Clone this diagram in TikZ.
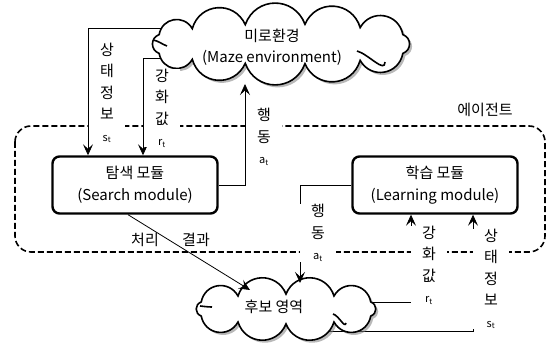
\documentclass[tikz,border=0pt]{standalone}
\usepackage{fontspec}
\setmainfont{Noto Sans CJK KR}
\usetikzlibrary{shadows,arrows.meta,calc}
\newcommand\mycloudpath[6]{%
  \path[cloudshape] ($(#1,#2)+(#5:#3 and #4)$)
    \foreach \b in {#6}{ to[bend left=70,looseness=1.3] ($(#1,#2)+(\b:#3 and #4)$) } -- cycle;}
\begin{document}
\begin{tikzpicture}[x=1pt,y=-1pt,
  conn/.style={line width=0.8pt},
  arr/.style={conn,-{Stealth[length=11pt,width=10pt,inset=4.5pt]}},
  module/.style={draw,line width=2.4pt,rounded corners=7pt,fill=white,minimum width=165pt,minimum height=57pt,align=center,font=\fontsize{15}{22}\selectfont},
  cloudshape/.style={draw,line width=1.6pt,fill=white,drop shadow={shadow xshift=2.5pt,shadow yshift=-2.5pt,opacity=.55}},
  curl/.style={line width=1.6pt},
  ctext/.style={align=center,inner sep=0pt,font=\fontsize{15}{21}\selectfont},
  agent/.style={line width=1.6pt,dash pattern=on 6pt off 3pt,rounded corners=16pt},
  vlab/.style={fill=white,inner sep=0pt,minimum width=36pt,align=center,font=\fontsize{15}{21.5}\selectfont},
  lab/.style={inner sep=0pt,font=\fontsize{15}{17}\selectfont}
]
\useasboundingbox (0,0) rectangle (552,344);
\draw[agent] (15,126) rectangle (545,252);
\node[lab] (agentlab) at (485,110) {에이전트};
\node[module] (search) at (135,185) {탐색 모듈\\(Search module)};
\node[module] (learn) at (435,185) {학습 모듈\\(Learning module)};
\coordinate (e1) at (200,28);
\coordinate (e2) at (200,58);
\coordinate (c2) at (320,302);
\coordinate (c3) at (300,331);
\draw[arr] (e1) -| ([xshift=-47pt]search.north);
\draw[arr] (e2) -| ([xshift=8pt]search.north);
\draw[arr] (c2) -| ([xshift=-24pt]learn.south);
\draw[arr] (c3) -| ([xshift=38pt]learn.south);
% clouds
\mycloudpath{281}{44}{138}{20}{28}{55,80,105,130,152,208,230,255,280,305,332,388}
\draw[curl] (153,40) to[out=-10,in=160] (167,46);
\draw[curl] (357,51) to[out=-15,in=-90] (385,62);
\mycloudpath{286}{309}{96}{15}{28}{60,90,120,152,208,240,270,300,332,388}
\draw[curl] (200,306) to[out=-5,in=180] (212,307);
\draw[curl] (333,314) to[out=-15,in=-100] (346,323);
\node[ctext] (env) at (272,47) {미로환경\\(Maze environment)};
\node[ctext] (cand) at (274,307) {후보 영역};
\coordinate (ea) at (245,84);
\coordinate (cb) at (250,290);
\coordinate (ca) at (300,283);
\draw[arr] (search.east) -| (ea);
\draw[arr] ([xshift=-7pt]search.south) -- (cb);
\draw[arr] (learn.west) -| (ca);
\node[vlab] (ls1) at (107,93) {상\\태\\정\\보\\{\fontsize{11}{12}\selectfont s\textsubscript{t}}};
\node[vlab] (lr1) at (162,108) {강\\화\\값\\{\fontsize{11}{12}\selectfont r\textsubscript{t}}};
\node[vlab] (la1) at (264,137) {행\\동\\{\fontsize{11}{12}\selectfont a\textsubscript{t}}};
\node[vlab] (la2) at (318,233) {행\\동\\{\fontsize{11}{12}\selectfont a\textsubscript{t}}};
\node[vlab] (lr2) at (429,265) {강\\화\\값\\{\fontsize{11}{12}\selectfont r\textsubscript{t}}};
\node[vlab] (ls2) at (491,279) {상\\태\\정\\보\\{\fontsize{11}{12}\selectfont s\textsubscript{t}}};
\node[lab] (lp1) at (145,240) {처리};
\node[lab] (lp2) at (196,240) {결과};
\end{tikzpicture}
\end{document}
